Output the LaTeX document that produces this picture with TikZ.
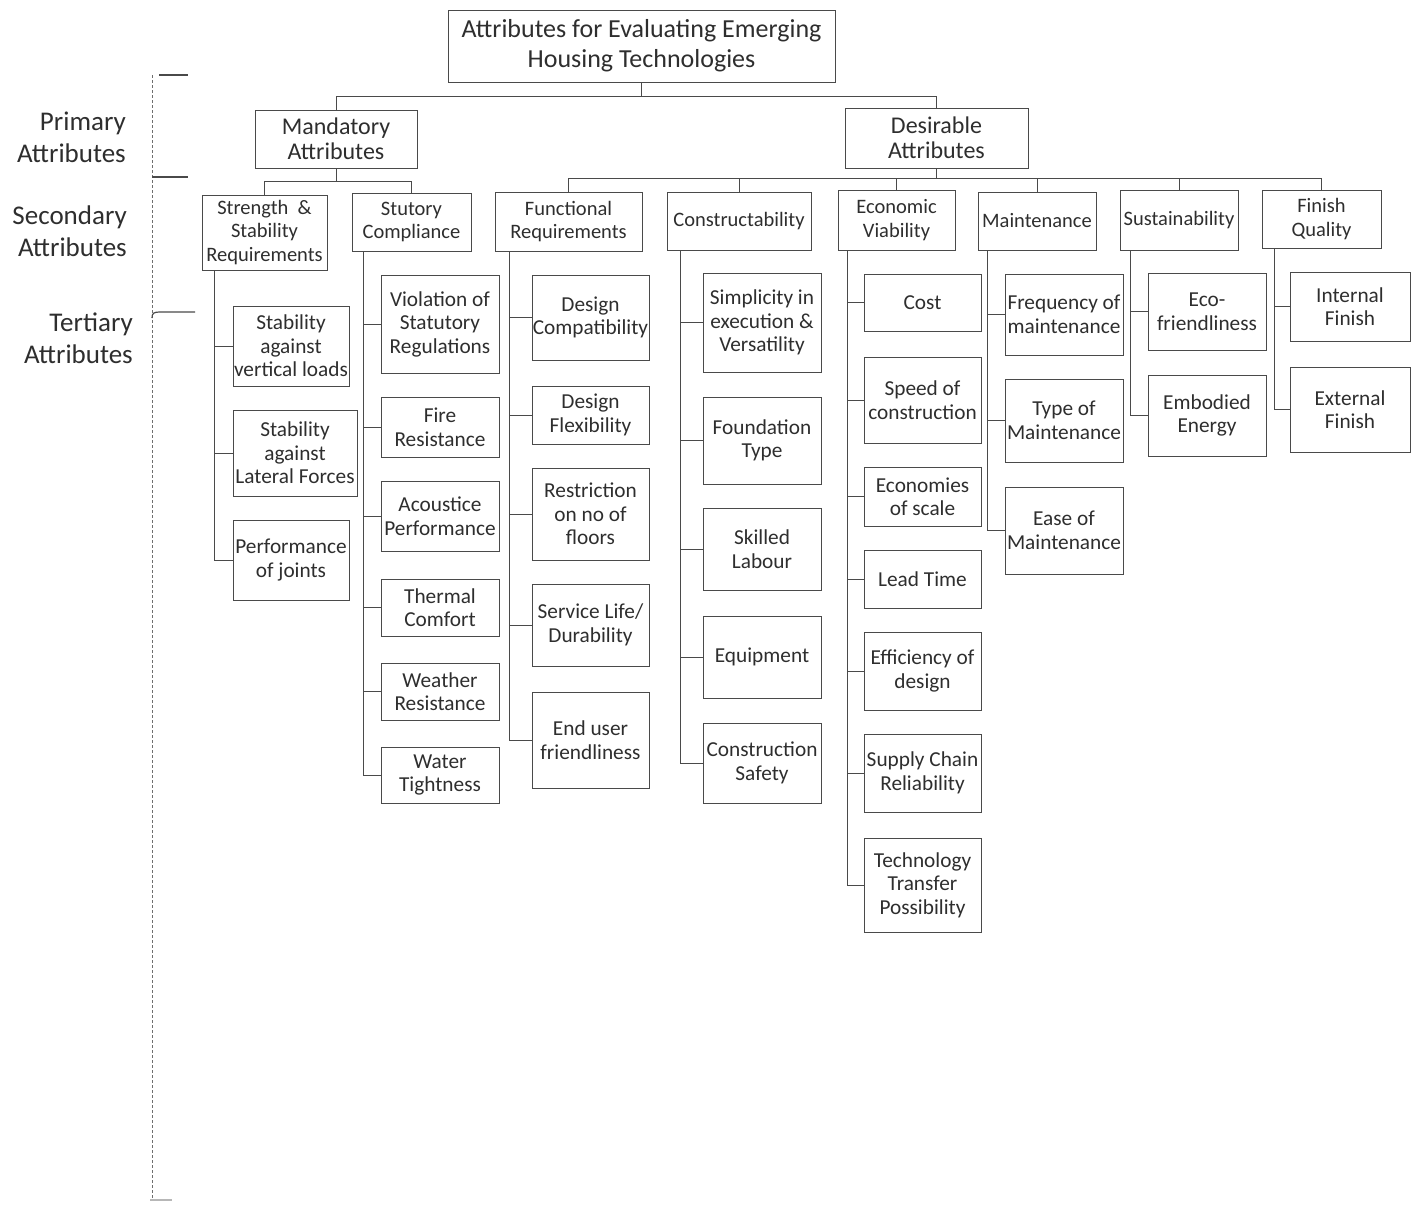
\documentclass[tikz,border=0pt]{standalone}
\usepackage{fontspec}
\setmainfont{Carlito}
\usetikzlibrary{calc}
\definecolor{ink}{HTML}{2E2E2E}
\definecolor{ln}{HTML}{4A4A4A}
\tikzset{
  tb/.style={draw=ln, line width=1pt, align=center, inner sep=0pt, text=ink,
    font=\fontsize{21.3}{23.5}\selectfont},
  sb/.style={tb, font=\fontsize{20.5}{23.5}\selectfont},
  pb/.style={tb, font=\fontsize{24}{25.5}\selectfont},
  hb/.style={tb, font=\fontsize{26}{30}\selectfont},
  conn/.style={draw=ln, line width=1pt},
  lvl/.style={align=right, anchor=east, text=ink, inner sep=0pt, font=\fontsize{27}{32}\selectfont},
  brk/.style={draw=ln!80, line width=1pt, dash pattern=on 3pt off 2pt},
  tick/.style={draw=ln, line width=1.2pt}
}
\newcommand\mybox[7][tb]{\node[#1, minimum width=#5pt, minimum height=#6pt] (#2) at (#3,#4) {#7};}
\begin{document}
\begin{tikzpicture}[x=1pt,y=-1pt]
\useasboundingbox (0,0) rectangle (1414,1205);
% top and primary
\mybox[hb]{top}{641.5}{46}{387}{72}{Attributes for Evaluating Emerging\\Housing Technologies}
\mybox[pb]{mand}{336}{139}{162}{58}{Mandatory\\Attributes}
\mybox[pb]{desi}{936.5}{138}{183}{60}{Desirable\\Attributes}
% secondary
\mybox[sb]{stren}{264.5}{232.5}{125}{75}{Strength \ \&\\Stability\\Requirements}
\mybox[sb]{stut}{411.5}{222}{119}{58}{Stutory\\Compliance}
\mybox[sb]{func}{568.5}{221.5}{147}{59}{Functional\\Requirements}
\mybox[sb]{cons}{739}{221}{144}{58}{Constructability}
\mybox[sb]{econ}{896.5}{220}{117}{60}{Economic\\Viability}
\mybox[sb]{main}{1037}{221}{118}{58}{Maintenance}
\mybox[sb]{sust}{1179}{220}{118}{60}{Sustainability}
\mybox[sb]{fini}{1321.5}{219}{119}{58}{Finish\\Quality}
% top connectors
\draw[conn] (top.south) -- ++(0,14) coordinate (t1);
\draw[conn] (t1) -| (mand.north);
\draw[conn] (t1) -| (desi.north);
\draw[conn] (mand.south) -- ++(0,13) coordinate (m1);
\draw[conn] (m1) -| (stren.north);
\draw[conn] (m1) -| (stut.north);
\draw[conn] (desi.south) -- ++(0,10) coordinate (d1);
\foreach \n in {func,cons,econ,main,sust,fini}{\draw[conn] (d1) -| (\n.north);}
% tertiary: strength
\mybox{sv}{291}{346}{116}{80}{Stability\\against\\vertical loads}
\mybox{sl}{295}{453}{124}{86}{Stability\\against\\Lateral Forces}
\mybox{sj}{291}{560}{116}{80}{Performance\\of joints}
\foreach \n in {sv,sl,sj}{\draw[conn] ($(stren.south west)+(13,0)$) |- (\n.west);}
% stutory
\mybox{s1}{440}{324}{118}{98}{Violation of\\Statutory\\Regulations}
\mybox{s2}{440}{427}{118}{60}{Fire\\Resistance}
\mybox{s3}{440}{516}{118}{70}{Acoustice\\Performance}
\mybox{s4}{440}{607.5}{118}{57}{Thermal\\Comfort}
\mybox{s5}{440}{691.5}{118}{57}{Weather\\Resistance}
\mybox{s6}{440}{775}{118}{56}{Water\\Tightness}
\foreach \n in {s1,s2,s3,s4,s5,s6}{\draw[conn] ($(stut.south west)+(12,0)$) |- (\n.west);}
% functional
\mybox{f1}{590.5}{317.5}{117}{85}{Design\\Compatibility}
\mybox{f2}{590.5}{415}{117}{58}{Design\\Flexibility}
\mybox{f3}{590.5}{514}{117}{92}{Restriction\\on no of\\floors}
\mybox{f4}{590.5}{625}{117}{82}{Service Life/\\Durability}
\mybox{f5}{590.5}{740}{117}{96}{End user\\friendliness}
\foreach \n in {f1,f2,f3,f4,f5}{\draw[conn] ($(func.south west)+(15,0)$) |- (\n.west);}
% constructability
\mybox{c1}{762}{322.5}{118}{99}{Simplicity in\\execution \&\\Versatility}
\mybox{c2}{762}{440.5}{118}{87}{Foundation\\Type}
\mybox{c3}{762}{549}{118}{82}{Skilled\\Labour}
\mybox{c4}{762}{657}{118}{82}{Equipment}
\mybox{c5}{762}{763}{118}{80}{Construction\\Safety}
\foreach \n in {c1,c2,c3,c4,c5}{\draw[conn] ($(cons.south west)+(14,0)$) |- (\n.west);}
% economic
\mybox{e1}{922.5}{302.5}{117}{57}{Cost}
\mybox{e2}{922.5}{400}{117}{86}{Speed of\\construction}
\mybox{e3}{922.5}{496.5}{117}{59}{Economies\\of scale}
\mybox{e4}{922.5}{579}{117}{58}{Lead Time}
\mybox{e5}{922.5}{671}{117}{78}{Efficiency of\\design}
\mybox{e6}{922.5}{773}{117}{78}{Supply Chain\\Reliability}
\mybox{e7}{922.5}{885}{117}{94}{Technology\\Transfer\\Possibility}
\foreach \n in {e1,e2,e3,e4,e5,e6,e7}{\draw[conn] ($(econ.south west)+(10,0)$) |- (\n.west);}
% maintenance
\mybox{m1b}{1064}{314.5}{118}{81}{Frequency of\\maintenance}
\mybox{m2b}{1064}{420.5}{118}{83}{Type of\\Maintenance}
\mybox{m3b}{1064}{530.5}{118}{87}{Ease of\\Maintenance}
\foreach \n in {m1b,m2b,m3b}{\draw[conn] ($(main.south west)+(10,0)$) |- (\n.west);}
% sustainability
\mybox{u1}{1207}{311.5}{118}{77}{Eco-\\friendliness}
\mybox{u2}{1207}{415.5}{118}{81}{Embodied\\Energy}
\foreach \n in {u1,u2}{\draw[conn] ($(sust.south west)+(11,0)$) |- (\n.west);}
% finish
\mybox{q1}{1350}{306.5}{120}{69}{Internal\\Finish}
\mybox{q2}{1350}{409.5}{120}{85}{External\\Finish}
\foreach \n in {q1,q2}{\draw[conn] ($(fini.south west)+(13,0)$) |- (\n.west);}
% level labels
\node[lvl] (lp) at (126,137) {Primary\\Attributes};
\node[lvl] (ls) at (127,231) {Secondary\\Attributes};
\node[lvl] (lt) at (133,338) {Tertiary\\Attributes};
% bracket
\coordinate (b0) at (152,75);
\coordinate (b1) at (152,1200);
\draw[brk] (b0) -- (b1);
\draw[tick] (159,75) -- (188,75);
\draw[tick] (152,177) -- (188,177);
\draw[tick] (152,318) .. controls (152,313) and (154,312) .. (160,312) -- (195,312);
\draw[tick, draw=ln!40] (150,1200) -- (172,1200);
\end{tikzpicture}
\end{document}
